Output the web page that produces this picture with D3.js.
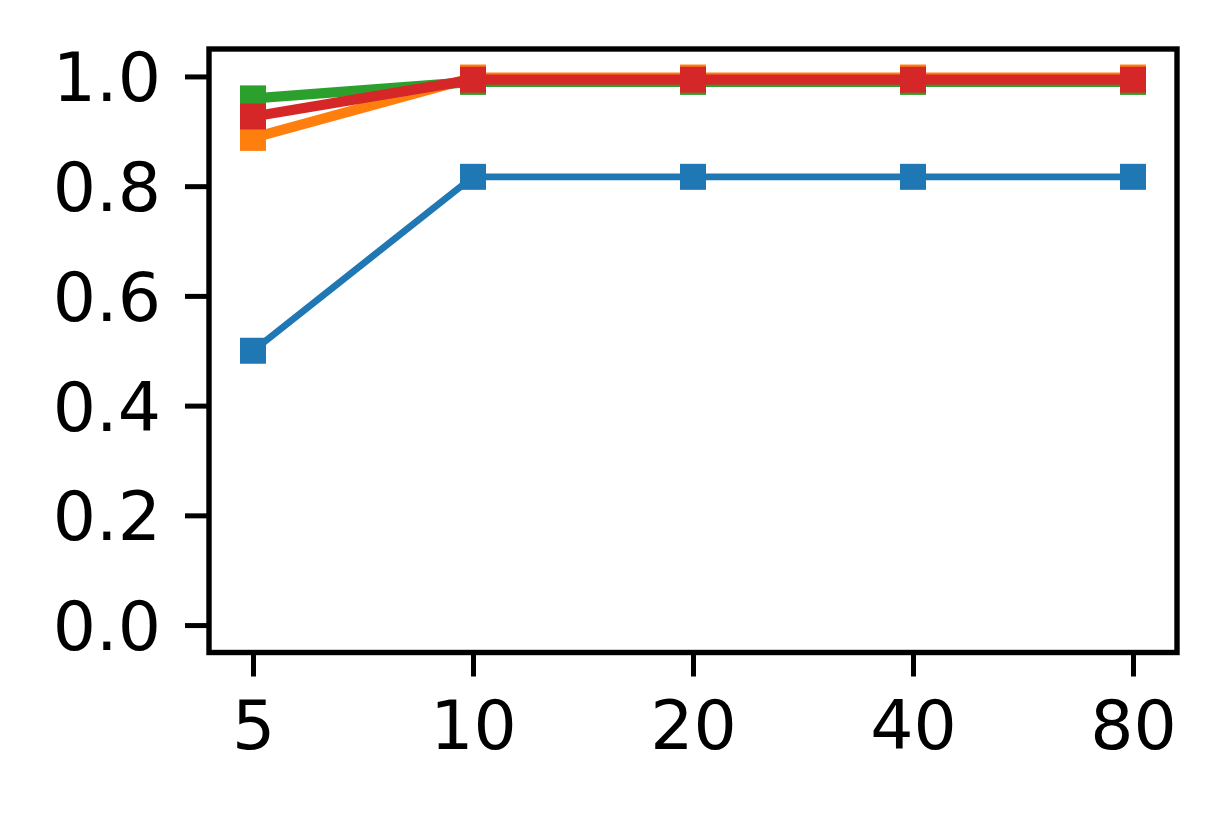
<!DOCTYPE html>
<html>
<head>
<meta charset="utf-8">
<script src="https://cdn.jsdelivr.net/npm/d3@7"></script>
<style>
  body { margin: 0; background: #fff; }
  svg { display: block; }
  .axis text { font-family: "DejaVu Sans", sans-serif; font-size: 68px; fill: #000; }
  .axis line { stroke: #000; stroke-width: 5; }
</style>
</head>
<body>
<script>
// categories on the x axis (evenly spaced)
var categories = ["5", "10", "20", "40", "80"];
var yTicks = [0.0, 0.2, 0.4, 0.6, 0.8, 1.0];

// series values
var blueVals   = [0.500, 0.817, 0.817, 0.817, 0.817];
var orangeVals = [0.888, 0.998, 0.998, 0.998, 0.998];
var greenVals  = [0.960, 0.990, 0.990, 0.990, 0.990];
var redVals    = [0.927, 0.994, 0.994, 0.994, 0.994];

var series = [
  {name: "blue",   color: "#1f77b4", width: 6.8,  values: blueVals},
  {name: "orange", color: "#ff7f0e", width: 10.2, values: orangeVals},
  {name: "green",  color: "#2ca02c", width: 10.2, values: greenVals},
  {name: "red",    color: "#d62728", width: 10.2, values: redVals}
];

var W = 1228, H = 819;
var mLeft = 209, mRight = 1177, mTop = 49, mBottom = 652.5;
var markerSize = 26;

var svg = d3.select("body").append("svg")
  .attr("width", W)
  .attr("height", H);

var x = d3.scalePoint().domain(categories).range([mLeft, mRight]).padding(0.2);
var y = d3.scaleLinear().domain([-0.05, 1.05]).range([mBottom, mTop]);

var xAxis = d3.axisBottom(x).tickSize(24).tickPadding(24);
var yAxis = d3.axisLeft(y).tickValues(yTicks).tickFormat(d3.format(".1f")).tickSize(24).tickPadding(24);

var gx = svg.append("g").attr("class", "axis")
  .attr("transform", "translate(0," + mBottom + ")")
  .call(xAxis);
gx.select(".domain").remove();

var gy = svg.append("g").attr("class", "axis")
  .attr("transform", "translate(" + mLeft + ",0)")
  .call(yAxis);
gy.select(".domain").remove();
gy.selectAll("text").attr("dy", "0.36em");

var line = d3.line()
  .x(function(d, i) { return x(categories[i]); })
  .y(function(d) { return y(d); });

var plot = svg.append("g");

series.forEach(function(s) {
  var g = plot.append("g").attr("class", "series-" + s.name);
  g.append("path")
    .attr("d", line(s.values))
    .style("fill", "none")
    .style("stroke", s.color)
    .style("stroke-width", s.width);
  g.selectAll("rect")
    .data(s.values)
    .enter().append("rect")
    .attr("x", function(d, i) { return x(categories[i]) - markerSize / 2; })
    .attr("y", function(d) { return y(d) - markerSize / 2; })
    .attr("width", markerSize)
    .attr("height", markerSize)
    .style("fill", s.color);
});

// frame
svg.append("rect")
  .attr("x", mLeft)
  .attr("y", mTop)
  .attr("width", mRight - mLeft)
  .attr("height", mBottom - mTop)
  .style("fill", "none")
  .style("stroke", "#000")
  .style("stroke-width", 5.4);
</script>
</body>
</html>
